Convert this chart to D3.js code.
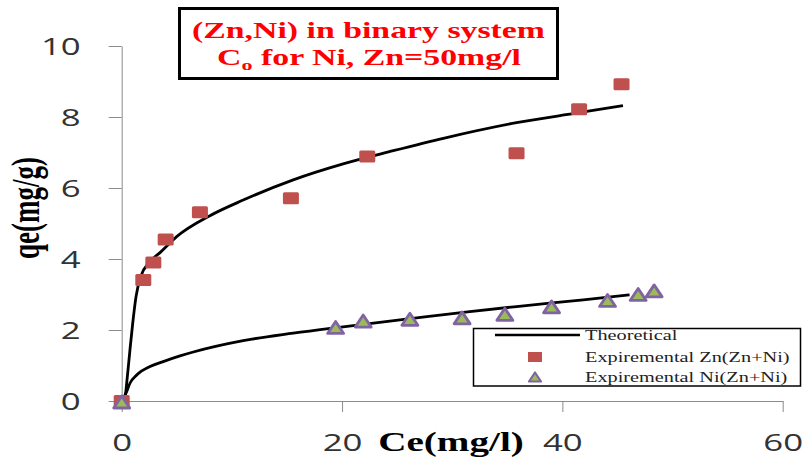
<!DOCTYPE html>
<html>
<head>
<meta charset="utf-8">
<script src="https://cdn.jsdelivr.net/npm/d3@7"></script>
<style>
  html, body { margin: 0; padding: 0; background: #fff; }
  svg { display: block; }
</style>
</head>
<body>
<div id="chart"></div>
<script>
// experimental points
const znCe = [0, 1.96, 2.87, 3.99, 7.1, 15.36, 22.29, 35.84, 41.52, 45.37];
const znQe = [0, 3.41, 3.90, 4.55, 5.32, 5.71, 6.89, 6.98, 8.22, 8.92];
const niCe = [0, 19.42, 21.92, 26.16, 30.9, 34.78, 39.02, 44.1, 46.88, 48.33];
const niQe = [0, 2.10, 2.28, 2.33, 2.37, 2.47, 2.68, 2.86, 3.03, 3.13];

// theoretical curves
const znFitCe = [0, 0.3, 0.51, 0.75, 1.0, 1.3, 1.72, 2.5, 3.48, 4.99, 8.01, 11.03, 15.57, 20.1, 24.65, 29.2, 35.84, 41.5, 45.5];
const znFitQe = [0, 0.12, 0.68, 1.44, 2.19, 2.94, 3.50, 3.90, 4.18, 4.63, 5.22, 5.66, 6.23, 6.68, 7.05, 7.40, 7.84, 8.12, 8.32];
const niFitCe = [0, 0.39, 0.75, 1.36, 2.57, 3.77, 5.29, 6.5, 11.03, 15.57, 20.1, 26.2, 31.6, 35.84, 41.9, 46.1];
const niFitQe = [0, 0.22, 0.50, 0.73, 0.97, 1.11, 1.27, 1.38, 1.70, 1.91, 2.09, 2.32, 2.52, 2.66, 2.85, 2.99];

const xTicks = [0, 20, 40, 60];
const yTicks = [0, 2, 4, 6, 8, 10];
const legendLabels = ['Theoretical', 'Expiremental Zn(Zn+Ni)', 'Expiremental Ni(Zn+Ni)'];

const width = 802, height = 462;
const stretch = 1.45; // the picture is widened, so is its text

const svg = d3.select('#chart').append('svg')
  .attr('width', width)
  .attr('height', height);

const x = d3.scaleLinear().domain([0, 60]).range([121.7, 782.7]);
const y = d3.scaleLinear().domain([0, 10]).range([401, 46]);

const axisColor = '#8c8c8c';

// y axis
const yAxis = svg.append('g')
  .attr('transform', 'translate(' + x(0) + ',0)')
  .call(d3.axisLeft(y).tickValues(yTicks).tickSize(13).tickSizeOuter(0).tickFormat(d3.format('d')));
yAxis.select('.domain').attr('stroke', axisColor);
yAxis.selectAll('.tick line').attr('stroke', axisColor);
yAxis.selectAll('.tick text')
  .attr('x', -41 / stretch)
  .attr('dy', '0.35em')
  .attr('transform', 'scale(' + stretch + ',1)')
  .style('font-family', '"Open Sans", sans-serif')
  .style('font-size', '24px')
  .attr('fill', '#333');

// x axis
const xAxis = svg.append('g')
  .attr('transform', 'translate(0,' + y(0) + ')')
  .call(d3.axisBottom(x).tickValues(xTicks).tickSize(11).tickSizeOuter(0).tickFormat(d3.format('d')));
xAxis.select('.domain').attr('stroke', axisColor);
xAxis.selectAll('.tick line').attr('stroke', axisColor);
xAxis.selectAll('.tick text')
  .attr('y', 42)
  .attr('dy', '0.35em')
  .attr('transform', 'scale(' + stretch + ',1)')
  .style('font-family', '"Open Sans", sans-serif')
  .style('font-size', '24px')
  .attr('fill', '#333');

// axis titles
svg.append('text')
  .attr('transform', 'translate(451,451) scale(' + stretch + ',1)')
  .attr('text-anchor', 'middle')
  .attr('font-family', '"Liberation Serif", serif')
  .attr('font-weight', 'bold')
  .attr('font-size', 27)
  .text('Ce(mg/l)');

svg.append('text')
  .attr('transform', 'translate(39,208) scale(' + stretch + ',1) rotate(-90)')
  .attr('text-anchor', 'middle')
  .attr('font-family', '"Liberation Serif", serif')
  .attr('font-weight', 'bold')
  .attr('font-size', 27)
  .text('qe(mg/g)');

// theoretical curves
const line = d3.line()
  .x(d => x(d[0]))
  .y(d => y(d[1]))
  .curve(d3.curveMonotoneX);

[[znFitCe, znFitQe], [niFitCe, niFitQe]].forEach(([cs, qs]) => {
  svg.append('path')
    .datum(cs.map((c, i) => [c, qs[i]]))
    .attr('d', line)
    .attr('fill', 'none')
    .attr('stroke', '#000')
    .attr('stroke-width', 2.8);
});

// markers
const sqW = 16, sqH = 12;
svg.selectAll('.zn')
  .data(znCe.map((c, i) => [c, znQe[i]]))
  .enter().append('rect')
  .attr('class', 'zn')
  .attr('x', d => x(d[0]) - sqW / 2)
  .attr('y', d => y(d[1]) - sqH / 2)
  .attr('width', sqW)
  .attr('height', sqH)
  .attr('rx', 1.5)
  .attr('fill', '#c0504d');

const tri = (cx, cy, w, h) =>
  'M' + (cx - w / 2) + ',' + (cy + h / 2) + 'L' + cx + ',' + (cy - h / 2) + 'L' + (cx + w / 2) + ',' + (cy + h / 2) + 'Z';

svg.selectAll('.ni')
  .data(niCe.map((c, i) => [c, niQe[i]]))
  .enter().append('path')
  .attr('class', 'ni')
  .attr('d', d => tri(x(d[0]), y(d[1]) + 1, 16, 12))
  .attr('fill', '#9bbb59')
  .attr('stroke', '#8064a2')
  .attr('stroke-width', 2.8)
  .attr('stroke-linejoin', 'round');

// title box
const title = svg.append('g');
title.append('rect')
  .attr('x', 179.5).attr('y', 8.5)
  .attr('width', 378).attr('height', 70)
  .attr('fill', '#fff')
  .attr('stroke', '#000')
  .attr('stroke-width', 3);

const titleStyle = sel => sel
  .attr('text-anchor', 'middle')
  .attr('fill', '#ff0000')
  .attr('font-family', '"Liberation Serif", serif')
  .attr('font-weight', 'bold')
  .attr('font-size', 23);

title.append('text')
  .attr('transform', 'translate(368.5,37.7) scale(1.47,1)')
  .call(titleStyle)
  .text('(Zn,Ni) in binary system');

const t2 = title.append('text')
  .attr('transform', 'translate(369,65) scale(1.47,1)')
  .call(titleStyle);
t2.append('tspan').text('C');
t2.append('tspan').attr('dy', 5).attr('font-size', 15).text('o');
t2.append('tspan').attr('dy', -5).text(' for Ni, Zn=50mg/l');

// legend
const legend = svg.append('g');
legend.append('rect')
  .attr('x', 473.5).attr('y', 328.5)
  .attr('width', 327).attr('height', 57.5)
  .attr('fill', '#fff')
  .attr('stroke', '#000')
  .attr('stroke-width', 1.5);

const rowY = [335, 357, 377];
legend.append('line')
  .attr('x1', 495).attr('x2', 580)
  .attr('y1', rowY[0]).attr('y2', rowY[0])
  .attr('stroke', '#000').attr('stroke-width', 2.4);
legend.append('rect')
  .attr('x', 535 - 7).attr('y', rowY[1] - 5)
  .attr('width', 14).attr('height', 10)
  .attr('fill', '#c0504d');
legend.append('path')
  .attr('d', tri(535, rowY[2], 12, 9))
  .attr('fill', '#9bbb59')
  .attr('stroke', '#8064a2')
  .attr('stroke-width', 2.2)
  .attr('stroke-linejoin', 'round');

legend.selectAll('.lt')
  .data(legendLabels)
  .enter().append('text')
  .attr('class', 'lt')
  .attr('transform', (d, i) => 'translate(585,' + (rowY[i] + 5) + ') scale(' + stretch + ',1)')
  .attr('font-family', '"Liberation Serif", serif')
  .attr('font-size', 14)
  .attr('fill', '#222')
  .text(d => d);
</script>
</body>
</html>
